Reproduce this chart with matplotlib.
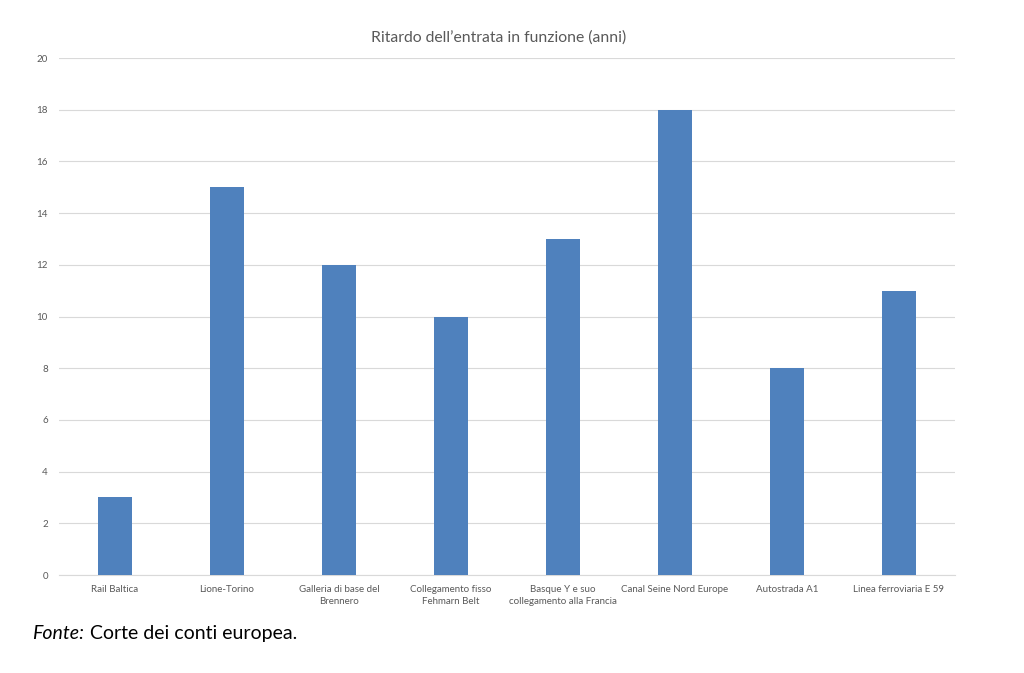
import matplotlib
matplotlib.use("Agg")
import matplotlib.pyplot as plt
from matplotlib.transforms import offset_copy

categories = ["Rail Baltica", "Lione-Torino", "Galleria di base del\nBrennero",
              "Collegamento fisso\nFehmarn Belt", "Basque Y e suo\ncollegamento alla Francia",
              "Canal Seine Nord Europe", "Autostrada A1", "Linea ferroviaria E 59"]
values = [3, 15, 12, 10, 13, 18, 8, 11]
yticks = [0, 2, 4, 6, 8, 10, 12, 14, 16, 18, 20]

plt.rcParams['font.family'] = ['Lato', 'DejaVu Sans']

fig = plt.figure(figsize=(10.24, 6.73), dpi=100)
ax = fig.add_axes([0.0576, 0.1456, 0.875, 0.7682])
x = list(range(len(categories)))
ax.bar(x, values, width=0.31, color='#4F81BD', zorder=3)
ax.set_xlim(-0.5, len(categories) - 0.5)
ax.set_ylim(0, 20)
ax.set_yticks(yticks)
ax.set_yticklabels([str(v) for v in yticks], fontsize=7, color='#595959')
ax.set_xticks(x)
ax.set_xticklabels(categories, fontsize=7, color='#595959', linespacing=1.5)
ax.tick_params(axis='both', length=0, pad=8)
ax.tick_params(axis='x', pad=7)
ax.grid(axis='y', color='#D9D9D9', linewidth=0.8, zorder=0)
for s in ['top', 'right', 'left']:
    ax.spines[s].set_visible(False)
ax.spines['bottom'].set_color('#D9D9D9')
ax.spines['bottom'].set_linewidth(0.8)
fig.text(0.487, 0.944, "Ritardo dell\u2019entrata in funzione (anni)", fontsize=11.3,
         color='#595959', ha='center', va='center')

t1 = fig.text(0.031, 0.058, "Fonte:", fontsize=14, style='italic', color='black', va='center')
fig.canvas.draw()
bb = t1.get_window_extent()
fig.text(bb.x1 / fig.bbox.width + 0.006, 0.058, "Corte dei conti europea.", fontsize=14,
         color='black', va='center')

fig.savefig("out.png", dpi=100)
